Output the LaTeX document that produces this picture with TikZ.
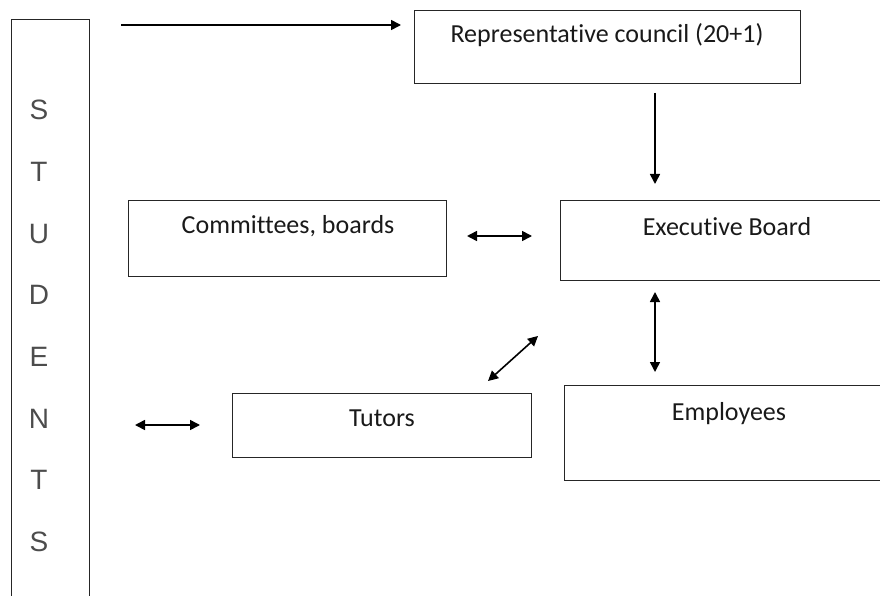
\documentclass[tikz,border=0pt]{standalone}
\usepackage{fontspec}
\setmainfont{Carlito}[Ligatures=NoCommon]
\newfontfamily\lettersfont{Liberation Sans}
\usetikzlibrary{arrows.meta}
\begin{document}
\begin{tikzpicture}[x=1pt,y=-1pt,
  box/.style={draw=black!85, line width=1.4pt, rectangle, inner sep=0pt, anchor=north west},
  lbl/.style={font=\fontsize{26}{30}\selectfont, anchor=base, inner sep=0pt, text=black!90},
  arr/.style={line width=1.6pt, -{Triangle[length=10pt,width=10pt]}},
  darr/.style={line width=1.6pt, {Triangle[length=10pt,width=10pt]}-{Triangle[length=10pt,width=10pt]}}]
\useasboundingbox (0,0) rectangle (880,596);
\clip (0,0) rectangle (880,596);
% boxes
\node[box, minimum width=78pt, minimum height=620pt] (students) at (11,19) {};
\node[box, minimum width=386pt, minimum height=73pt] (rep) at (414,10) {};
\node[box, minimum width=318pt, minimum height=76pt] (comm) at (128,200) {};
\node[box, minimum width=360pt, minimum height=80pt] (exec) at (560,200) {};
\node[box, minimum width=299pt, minimum height=64pt] (tutors) at (232,393) {};
\node[box, minimum width=360pt, minimum height=95pt] (emp) at (564,385) {};
% texts
\node[align=center, inner sep=0pt, font=\lettersfont\fontsize{28}{61.7}\selectfont, text=black!70] (studT) at (39,326) {S\\T\\U\\D\\E\\N\\T\\S};
\node[lbl] (repT) at (607,43) {Representative council (20+1)};
\node[lbl] (commT) at (288,233) {Committees, boards};
\node[lbl] (execT) at (727,235) {Executive Board};
\node[lbl] (tutT) at (382,426) {Tutors};
\node[lbl] (empT) at (729,420) {Employees};
% connector ends
\coordinate (a1s) at (121,25); \coordinate (a1e) at (401,25);
\coordinate (a2s) at (655,93); \coordinate (a2e) at (655,184);
\coordinate (a3s) at (467,236); \coordinate (a3e) at (532,236);
\coordinate (a4s) at (655,292); \coordinate (a4e) at (655,372);
\coordinate (a5s) at (538,336); \coordinate (a5e) at (488,381);
\coordinate (a6s) at (135,425); \coordinate (a6e) at (200,425);
\draw[arr] (a1s) -- (a1e);
\draw[arr] (a2s) -- (a2e);
\draw[darr] (a3s) -- (a3e);
\draw[darr] (a4s) -- (a4e);
\draw[darr] (a5s) -- (a5e);
\draw[darr] (a6s) -- (a6e);
\end{tikzpicture}
\end{document}
